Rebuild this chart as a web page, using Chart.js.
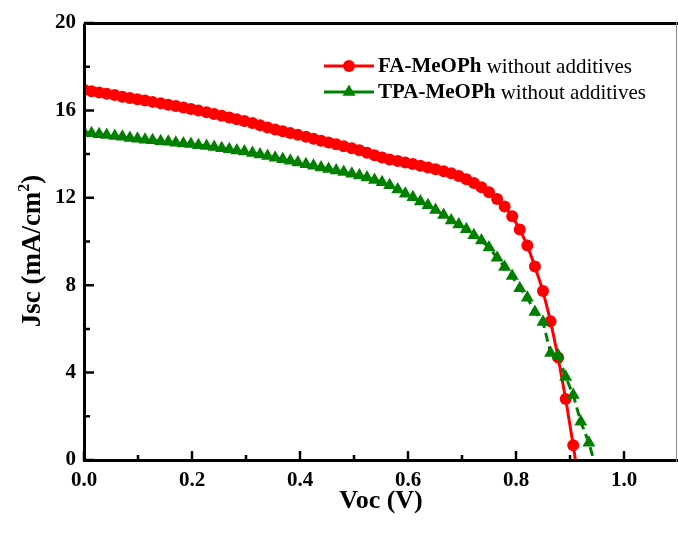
<!DOCTYPE html>
<html>
<head>
<meta charset="utf-8">
<script src="https://cdn.jsdelivr.net/npm/chart.js@4.4.1/dist/chart.umd.min.js"></script>
<style>
  html, body { margin: 0; padding: 0; background: #fff; overflow: hidden; }
  #chart { display: block; }
</style>
</head>
<body>
<canvas id="chart" width="678" height="535"></canvas>
<script>
// bias voltage (V), same sweep for both cells
const voltage = [
  0.000, 0.014, 0.028, 0.042, 0.057, 0.071, 0.085, 0.099, 0.113, 0.127,
  0.142, 0.156, 0.170, 0.184, 0.198, 0.212, 0.227, 0.241, 0.255, 0.269,
  0.283, 0.297, 0.312, 0.326, 0.340, 0.354, 0.368, 0.382, 0.396, 0.411,
  0.425, 0.439, 0.453, 0.467, 0.481, 0.496, 0.510, 0.524, 0.538, 0.552,
  0.566, 0.581, 0.595, 0.609, 0.623, 0.637, 0.651, 0.666, 0.680, 0.694,
  0.708, 0.722, 0.736, 0.750, 0.765, 0.779, 0.793, 0.807, 0.821, 0.835,
  0.850, 0.864, 0.878, 0.892, 0.906, 0.920, 0.935
];

// current density (mA/cm2)
const jscFA = [
  16.94, 16.88, 16.82, 16.76, 16.70, 16.63, 16.57, 16.51, 16.45, 16.39,
  16.33, 16.26, 16.20, 16.13, 16.06, 15.99, 15.92, 15.84, 15.76, 15.68,
  15.60, 15.51, 15.42, 15.32, 15.22, 15.13, 15.05, 14.96, 14.88, 14.79,
  14.70, 14.61, 14.53, 14.45, 14.36, 14.27, 14.18, 14.06, 13.95, 13.84,
  13.75, 13.68, 13.61, 13.55, 13.47, 13.39, 13.31, 13.22, 13.12, 13.00,
  12.85, 12.68, 12.48, 12.25, 11.95, 11.60, 11.16, 10.55, 9.82, 8.86,
  7.73, 6.35, 4.69, 2.79, 0.68
];
const jscTPA = [
  15.00, 14.95, 14.91, 14.87, 14.83, 14.79, 14.74, 14.70, 14.66, 14.63,
  14.59, 14.56, 14.52, 14.49, 14.46, 14.41, 14.37, 14.32, 14.27, 14.22,
  14.17, 14.12, 14.05, 13.98, 13.91, 13.83, 13.76, 13.69, 13.61, 13.54,
  13.47, 13.39, 13.32, 13.25, 13.18, 13.10, 13.02, 12.93, 12.82, 12.71,
  12.57, 12.38, 12.19, 12.02, 11.83, 11.66, 11.44, 11.21, 10.96, 10.78,
  10.56, 10.29, 10.05, 9.72, 9.26, 8.83, 8.42, 7.86, 7.43, 6.77,
  6.32, 4.90, 4.79, 3.80, 2.97, 1.75, 0.79
];

// where each fitted line meets the V axis (Voc, J = 0)
const vocFA = 0.910;
const vocTPA = 0.944;

const seriesNames = ["FA-MeOPh", "TPA-MeOPh"];
const seriesSuffix = " without additives";

const xTickValues = [0, 0.2, 0.4, 0.6, 0.8, 1.0];
const xMinorTicks = [0.1, 0.3, 0.5, 0.7, 0.9];
const yTickValues = [0, 4, 8, 12, 16, 20];
const yMinorTicks = [2, 6, 10, 14, 18];

const serif = "'Liberation Serif', 'Times New Roman', serif";

// build xy points, with a marker-less end point at Voc
const toPoints = (vals, voc) =>
  vals.map((j, i) => ({ x: voltage[i], y: j })).concat([{ x: voc, y: 0 }]);

// frame + inward ticks
const framePlugin = {
  id: "frame",
  afterDatasetsDraw(chart) {
    const ctx = chart.ctx;
    const a = chart.chartArea;
    const xs = chart.scales.x;
    const ys = chart.scales.y;
    ctx.save();
    ctx.strokeStyle = "#000";
    ctx.lineWidth = 3;
    ctx.beginPath();
    ctx.moveTo(a.left + 0.5, a.top + 0.5);
    ctx.lineTo(a.left + 0.5, a.bottom + 0.5);
    ctx.lineTo(a.right, a.bottom + 0.5);
    ctx.moveTo(a.left + 0.5, a.top + 0.5);
    ctx.lineTo(a.right, a.top + 0.5);
    ctx.stroke();

    // right edge is only a thin grey line in the original
    ctx.strokeStyle = "#888";
    ctx.lineWidth = 1;
    ctx.beginPath();
    ctx.moveTo(a.right - 1.5, a.top - 1);
    ctx.lineTo(a.right - 1.5, a.bottom + 2);
    ctx.stroke();

    ctx.strokeStyle = "#000";
    ctx.lineWidth = 2.5;
    ctx.beginPath();
    xTickValues.concat(xMinorTicks).forEach(v => {
      const len = xMinorTicks.includes(v) ? 6 : 10;
      const px = xs.getPixelForValue(v);
      ctx.moveTo(px, a.bottom + 1);
      ctx.lineTo(px, a.bottom + 1 - len);
    });
    yTickValues.concat(yMinorTicks).forEach(v => {
      const len = yMinorTicks.includes(v) ? 6 : 10;
      const py = ys.getPixelForValue(v);
      ctx.moveTo(a.left, py);
      ctx.lineTo(a.left + len, py);
    });
    ctx.stroke();
    ctx.restore();
  }
};

// legend with bold compound name + normal suffix
const legendPlugin = {
  id: "mixedLegend",
  afterDatasetsDraw(chart) {
    const ctx = chart.ctx;
    const rowY = [66, 92];
    chart.data.datasets.forEach((ds, i) => {
      const y = rowY[i];
      ctx.save();
      ctx.strokeStyle = ds.borderColor;
      ctx.fillStyle = ds.borderColor;
      ctx.lineWidth = 3;
      ctx.beginPath();
      ctx.moveTo(324, y);
      ctx.lineTo(374, y);
      ctx.stroke();
      ctx.beginPath();
      if (ds.pointStyle === "triangle") {
        const r = 7.5;
        ctx.moveTo(349, y - r);
        ctx.lineTo(349 + r * 0.866, y + r / 2);
        ctx.lineTo(349 - r * 0.866, y + r / 2);
        ctx.closePath();
      } else {
        ctx.arc(349, y, 6, 0, Math.PI * 2);
      }
      ctx.fill();

      ctx.fillStyle = "#000";
      ctx.textBaseline = "middle";
      ctx.font = "bold 21px " + serif;
      ctx.fillText(seriesNames[i], 378, y + 1);
      const w = ctx.measureText(seriesNames[i]).width;
      ctx.font = "21px " + serif;
      ctx.fillText(seriesSuffix, 378 + w, y + 1);
      ctx.restore();
    });
  }
};

// rotated y title with superscript
const yTitlePlugin = {
  id: "yTitle",
  afterDraw(chart) {
    const ctx = chart.ctx;
    const main = "Jsc (mA/cm", sup = "2", tail = ")";
    ctx.save();
    ctx.translate(31, 251);
    ctx.rotate(-Math.PI / 2);
    ctx.fillStyle = "#000";
    ctx.textBaseline = "alphabetic";
    ctx.font = "bold 27px " + serif;
    const w1 = ctx.measureText(main).width;
    const w3 = ctx.measureText(tail).width;
    ctx.font = "bold 16px " + serif;
    const w2 = ctx.measureText(sup).width;
    let x = -(w1 + w2 + w3) / 2;
    ctx.font = "bold 27px " + serif;
    ctx.fillText(main, x, 9);
    ctx.font = "bold 16px " + serif;
    ctx.fillText(sup, x + w1, -2);
    ctx.font = "bold 27px " + serif;
    ctx.fillText(tail, x + w1 + w2, 9);
    ctx.restore();
  }
};

const ctx = document.getElementById("chart").getContext("2d");

let chart = new Chart(ctx, {
  type: "line",
  data: {
    datasets: [{
      label: seriesNames[0] + seriesSuffix,
      data: toPoints(jscFA, vocFA),
      borderColor: "#ff0000",
      backgroundColor: "#ff0000",
      borderWidth: 3,
      pointStyle: "circle",
      pointRadius: c => (c.dataIndex < jscFA.length ? 6 : 0),
      pointBorderWidth: 0,
      pointBackgroundColor: "#ff0000",
      tension: 0,
      clip: 0,
      order: 1
    }, {
      label: seriesNames[1] + seriesSuffix,
      data: toPoints(jscTPA, vocTPA),
      borderColor: "#008000",
      backgroundColor: "#008000",
      borderWidth: 3,
      borderDash: [9, 5],
      pointStyle: "triangle",
      pointRadius: c => (c.dataIndex < jscTPA.length ? 7.5 : 0),
      pointBorderWidth: 0,
      pointBackgroundColor: "#008000",
      tension: 0,
      clip: 0,
      order: 0
    }]
  },
  options: {
    responsive: false,
    animation: false,
    devicePixelRatio: 1,
    layout: {
      autoPadding: false,
      padding: { top: 23, right: 0, bottom: 0, left: 0 }
    },
    plugins: {
      legend: { display: false },
      tooltip: { enabled: false }
    },
    scales: {
      x: {
        type: "linear",
        min: 0,
        max: 1.1,
        afterFit: s => { s.height = 75; },
        afterBuildTicks: s => { s.ticks = xTickValues.map(v => ({ value: v })); },
        grid: { display: false, drawTicks: false },
        border: { display: false },
        ticks: {
          color: "#000",
          padding: 8,
          maxRotation: 0,
          autoSkip: false,
          font: { family: serif, size: 21, weight: "bold" },
          callback: v => Number(v).toFixed(1)
        },
        title: {
          display: true,
          text: "Voc (V)",
          color: "#000",
          font: { family: serif, size: 26, weight: "bold" },
          padding: { top: 0, bottom: 18 }
        }
      },
      y: {
        type: "linear",
        min: 0,
        max: 20,
        afterFit: s => { s.width = 84; },
        afterBuildTicks: s => { s.ticks = yTickValues.map(v => ({ value: v })); },
        grid: { display: false, drawTicks: false },
        border: { display: false },
        ticks: {
          color: "#000",
          padding: 8,
          autoSkip: false,
          font: { family: serif, size: 21, weight: "bold" }
        }
      }
    }
  },
  plugins: [framePlugin, legendPlugin, yTitlePlugin]
});
</script>
</body>
</html>
